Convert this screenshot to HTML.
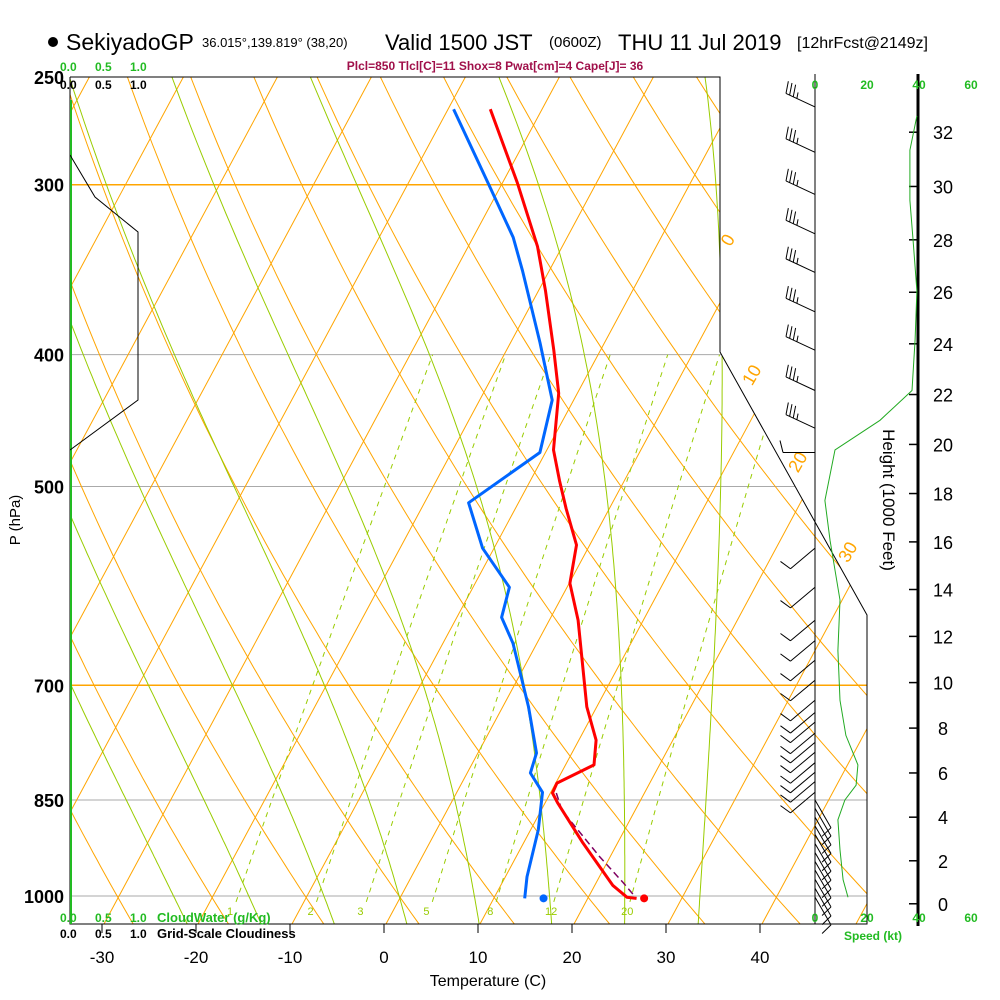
<!DOCTYPE html>
<html><head><meta charset="utf-8">
<style>
html,body{margin:0;padding:0;background:#fff;}
svg{display:block;font-family:"Liberation Sans",sans-serif;}
</style></head>
<body>
<svg id="chart" width="1000" height="1000" viewBox="0 0 1000 1000" xmlns="http://www.w3.org/2000/svg">
<defs>
<clipPath id="plotclip"><polygon points="70,77 720,77 720,352 867,615 867,924 70,924"/></clipPath>
</defs>
<rect width="1000" height="1000" fill="#fff"/>
<g>
<circle cx="53" cy="42" r="5" fill="#000"/>
<text x="66" y="50" font-size="23">SekiyadoGP</text>
<text x="202" y="47" font-size="13">36.015°,139.819° (38,20)</text>
<text x="385" y="50" font-size="22">Valid 1500 JST</text>
<text x="549" y="47" font-size="15">(0600Z)</text>
<text x="618" y="50" font-size="22">THU 11 Jul 2019</text>
<text x="797" y="48" font-size="16">[12hrFcst@2149z]</text>
</g>
<text x="495" y="70" font-size="12" font-weight="bold" fill="#a0104a" text-anchor="middle">Plcl=850 Tlcl[C]=11 Shox=8 Pwat[cm]=4 Cape[J]= 36</text>
<g id="grid" clip-path="url(#plotclip)"></g>
<g id="profiles" clip-path="url(#plotclip)"></g>
<g id="axes"></g>
<g id="winds"></g>
</svg>
<script>
// ---- data ----
const tempP = [264,299,333,359,397,427,470,495,519,552,589,627,726,768,801,826,840,854,914,982,1002,1004];
const tempT = [-35.5,-28.4,-22.6,-19.2,-14.9,-11.9,-9.2,-6.8,-4.5,-1.3,0.2,3.2,9.1,12.0,13.2,10.3,10.4,11.5,16.5,22.1,24.3,25.4];
const dewP = [264,301,328,347,392,432,472,514,555,593,624,652,726,785,812,839,894,968,1004];
const dewT = [-39.4,-31.1,-25.7,-22.8,-16.8,-12.2,-10.5,-15.2,-11.1,-6.0,-5.1,-2.4,2.9,6.4,6.9,9.3,11.0,12.5,13.5];
const parcelP = [840,865,936,978,1003];
const parcelT = [10.8,12.4,19.1,23.1,25.3];
const sfcP = 1004;
const sfcT = 26.2;
const sfcTd = 15.5;
const windP = [263,284,305,326,348,372,397,425,453,472,555,593,627,649,671,694,718,733,745,759,771,784,798,811,824,839,850,862,875,888,901,915,929,943,957,972,987,1002];
const windDir = [295,295,295,295,295,295,295,295,295,270,230,230,230,230,230,230,230,230,230,230,230,230,230,230,230,230,150,150,150,150,150,150,150,150,150,150,150,150];
const windSpd = [35,35,35,35,35,35,35,35,35,10,10,10,10,10,10,10,10,10,10,10,10,10,10,10,10,10,10,10,10,10,10,10,10,10,10,10,10,10];
const spdP = [1002,973,925,879,850,829,801,762,718,660,606,548,512,470,447,425,390,359,329,308,283,267];
const spdV = [12.7,10.8,9.6,8.8,11.5,15.8,16.5,11.9,9.6,8.8,9.6,5.8,3.8,7.7,25,37.3,38.5,39.2,37.7,36.5,36.5,39.2];
const pLabels = [250,300,400,500,700,850,1000];
const tLabels = [-30,-20,-10,0,10,20,30,40];
const hLabels = [0,2,4,6,8,10,12,14,16,18,20,22,24,26,28,30,32];
const spdLabels = [0,20,40,60];
const mixW = [1,2,3,5,8,12,20];
const moistT0 = [-24,-16,-8,0,8,16,24,32];

// ---- scales ----
function yP(p){return 77+819*Math.log(p/250)/Math.log(4);}
function xT(T,p){return 384+9.4*T+0.54*(924-yP(p));}
function xS(v){return 815+2.6*v;}
function hToP(h){return 1013.25*Math.pow(1-6.8756e-6*h*1000,5.2559);}
const NS="http://www.w3.org/2000/svg";
function mk(tag,attrs,parent){const e=document.createElementNS(NS,tag);for(const k in attrs)e.setAttribute(k,attrs[k]);parent.appendChild(e);return e;}
const grid=document.getElementById('grid'),prof=document.getElementById('profiles'),axes=document.getElementById('axes'),winds=document.getElementById('winds');
function es(Tc){return 6.112*Math.exp(17.67*Tc/(Tc+243.5));}

// isobars
[[300,'#ffa500',1.5],[700,'#ffa500',1.5],[400,'#aaa',1],[500,'#aaa',1],[850,'#aaa',1],[1000,'#aaa',1]].forEach(a=>{
  const l=mk('line',{x1:70,x2:870,y1:yP(a[0]),y2:yP(a[0]),stroke:a[1],'stroke-width':a[2]},grid);
  
  
});
// isotherms
for(let T=-130;T<=50;T+=10){
  const l=mk('line',{x1:xT(T,1042),y1:924,x2:xT(T,250),y2:77,stroke:'#ffa500','stroke-width':1},grid);
  
  
}
// dry adiabats
for(let th=-40;th<=220;th+=10){
  let pts=[];
  for(let p=1050;p>=240;p-=10){const T=(th+273.15)*Math.pow(p/1000,0.286)-273.15;pts.push(xT(T,p).toFixed(1)+','+yP(p).toFixed(1));}
  const l=mk('polyline',{points:pts.join(' '),fill:'none',stroke:'#ffa500','stroke-width':1},grid);
  
  
}
// moist adiabats
function moistStep(T,p,dp){const Tk=T+273.15,e=es(T),rs=0.622*e/(p-e),Lv=2.5e6,Rd=287,Cp=1005;
  const g=(Rd*Tk+Lv*rs)/(Cp+Lv*Lv*rs*0.622/(Rd*Tk*Tk))/p;return T+g*dp;}
moistT0.forEach(T0=>{
  let pts=[];let T=T0;
  for(let p=1000;p<=1050;p+=5){pts.unshift(xT(T,p).toFixed(1)+','+yP(p).toFixed(1));T=moistStep(T,p,5);}
  T=T0;
  for(let p=1000;p>=240;p-=5){if(p<1000)pts.push(xT(T,p).toFixed(1)+','+yP(p).toFixed(1));T=moistStep(T,p,-5);}
  const l=mk('polyline',{points:pts.join(' '),fill:'none',stroke:'#99cc00','stroke-width':1},grid);
  
  
});
// mixing ratio lines
mixW.forEach(w=>{
  let pts=[];
  for(let p=1010;p>=400;p-=10){const e=w*p/(622+w),a=Math.log(e/6.112),Td=243.5*a/(17.67-a);pts.push(xT(Td,p).toFixed(1)+','+yP(p).toFixed(1));}
  const l=mk('polyline',{points:pts.join(' '),fill:'none',stroke:'#99cc00','stroke-width':1,'stroke-dasharray':'5,5'},grid);
  
  
  const e=w*1015/(622+w),a=Math.log(e/6.112),Td=243.5*a/(17.67-a);
  const t=mk('text',{x:xT(Td,1015)-8,y:915,'font-size':11,fill:'#99cc00'},grid);t.textContent=w;
  
  
});
// isotherm labels
[[0,733,243],[10,757,378],[20,803,465],[30,853,555]].forEach(a=>{
  const t=mk('text',{x:a[1],y:a[2],'font-size':18,fill:'#ffa500','text-anchor':'middle',transform:`rotate(-60 ${a[1]} ${a[2]})`},axes);t.textContent=a[0];
  
  
});
// profiles
function line(P,T,attrs,name){
  const pts=P.map((p,i)=>xT(T[i],p).toFixed(1)+','+yP(p).toFixed(1)).join(' ');
  const l=mk('polyline',Object.assign({points:pts,fill:'none','stroke-linejoin':'round'},attrs),prof);
  
  
}
line(parcelP,parcelT,{stroke:'#800060','stroke-width':1.5,'stroke-dasharray':'7,4'},'parcel-path');
line(dewP,dewT,{stroke:'#0066ff','stroke-width':3},'dewpoint-line');
line(tempP,tempT,{stroke:'#ff0000','stroke-width':3},'temperature-line');
let d=mk('circle',{cx:xT(sfcT,sfcP),cy:yP(sfcP),r:4,fill:'#ff0000'},prof);


d=mk('circle',{cx:xT(sfcTd,sfcP),cy:yP(sfcP),r:4,fill:'#0066ff'},prof);



// frame
let f=mk('polyline',{points:'70,77 720,77 720,352 867,615 867,924 70,924 70,77',fill:'none',stroke:'#000','stroke-width':1},axes);


f=mk('line',{x1:71,x2:71,y1:100,y2:924,stroke:'#22bb22','stroke-width':2},axes);


f=mk('polyline',{points:'70,155 95,197 138,232 138,400 70,450',fill:'none',stroke:'#000','stroke-width':1},axes);


// pressure labels
pLabels.forEach(p=>{
  const t=mk('text',{x:64,y:yP(p)+7,'font-size':18,'font-weight':'bold','text-anchor':'end'},axes);t.textContent=p;
  
  
});
// temperature ticks/labels
tLabels.forEach(T=>{
  const x=384+9.4*T;
  const l=mk('line',{x1:x,x2:x,y1:924,y2:933,stroke:'#000'},axes);
  
  
  const t=mk('text',{x:x,y:963,'font-size':17,'text-anchor':'middle'},axes);t.textContent=T;
  
  
});
</script>
<script>
const ax=document.getElementById('axes');
function T(x,y,s,attrs,name){const t=mk('text',Object.assign({x:x,y:y},attrs),ax);t.textContent=s;
  
  return t;}
T(488,986,'Temperature (C)',{'font-size':16,'text-anchor':'middle'},'x-axis-title');
T(20,520,'P (hPa)',{'font-size':15,'text-anchor':'middle',transform:'rotate(-90 20 520)'},'y-axis-title');
T(883,500,'Height (1000 Feet)',{'font-size':17,'text-anchor':'middle',transform:'rotate(90 883 500)'},'height-axis-title');
const scaleVals=['0.0','0.5','1.0'], scaleX=[60,95,130];
[[71,'#22bb22','cloudwater-scale-top'],[89,'#000','cloudiness-scale-top'],[922,'#22bb22','cloudwater-scale-bottom'],[938,'#000','cloudiness-scale-bottom']].forEach(r=>{
  scaleVals.forEach((v,i)=>T(scaleX[i],r[0],v,{'font-size':12,'font-weight':'bold',fill:r[1]},r[2]));
});
T(157,922,'CloudWater (g/Kg)',{'font-size':13,'font-weight':'bold',fill:'#22bb22'},'cloudwater-legend');
T(157,938,'Grid-Scale Cloudiness',{'font-size':13,'font-weight':'bold'},'cloudiness-legend');
T(873,940,'Speed (kt)',{'font-size':12,'font-weight':'bold',fill:'#22bb22','text-anchor':'middle'},'speed-axis-title');
// speed axis
let l=mk('line',{x1:815,x2:815,y1:74,y2:924,stroke:'#000','stroke-width':1},ax);


l=mk('line',{x1:918,x2:918,y1:74,y2:926,stroke:'#000','stroke-width':3},ax);


spdLabels.forEach(v=>{
  T(xS(v),89,v,{'font-size':12,'font-weight':'bold',fill:'#22bb22','text-anchor':'middle'},'speed-label-top');
  T(xS(v),922,v,{'font-size':12,'font-weight':'bold',fill:'#22bb22','text-anchor':'middle'},'speed-label-bottom');
});
hLabels.forEach(h=>{
  const y=yP(hToP(h));
  const k=mk('line',{x1:909,x2:918,y1:y,y2:y,stroke:'#000','stroke-width':1.5},ax);
  
  
  T(943,y+7,h,{'font-size':18,'text-anchor':'middle'},'height-label');
});
// speed profile
const sp=spdP.map((p,i)=>xS(spdV[i]).toFixed(1)+','+yP(p).toFixed(1)).join(' ');
l=mk('polyline',{points:sp,fill:'none',stroke:'#22aa22','stroke-width':1},ax);


// wind barbs
const wg=document.getElementById('winds');
windP.forEach((p,i)=>{
  const y0=yP(p),x0=815,a=windDir[i]*Math.PI/180;
  const vx=Math.sin(a),vy=-Math.cos(a),L=32;
  const ex=x0+vx*L,ey=y0+vy*L;
  const g=mk('g',{stroke:'#000','stroke-width':1,fill:'none'},wg);
  
  
  mk('line',{x1:x0,y1:y0,x2:ex,y2:ey},g);
  const px=-vy,py=vx;
  let s=windSpd[i],k=0;
  while(s>=10){const bx=ex-vx*k*4,by=ey-vy*k*4;mk('line',{x1:bx,y1:by,x2:bx+px*12+vx*3,y2:by+py*12+vy*3},g);s-=10;k++;}
  if(s>=5){if(k==0)k=1;const bx=ex-vx*k*4,by=ey-vy*k*4;mk('line',{x1:bx,y1:by,x2:bx+px*6+vx*1.5,y2:by+py*6+vy*1.5},g);}
});
</script>
</body></html>
